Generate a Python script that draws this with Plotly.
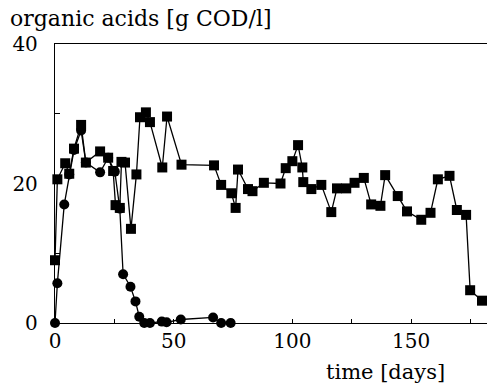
import plotly.graph_objects as go

# squares series (days, g COD/l)
sq_days = [0, 1, 4.3, 6, 8, 11, 13, 19, 22.4, 24.5, 25.5, 27.3, 28, 29.5, 32, 34.3,
           35.8, 38.3, 40, 45.2, 47.2, 53.3, 67, 70, 74.3, 76.1, 77.1, 81.3, 83.2, 88,
           95, 97.2, 100, 102.4, 104.2, 104.6, 108, 112.2, 116.4, 118.8, 122.7, 126.2,
           130.1, 133.2, 137.1, 139.1, 144.4, 148.3, 154.3, 158.2, 161.3, 166.2, 169.3,
           173.2, 174.9, 179.9]
sq_vals = [9.0, 20.6, 22.9, 21.4, 25.0, 28.4, 23.0, 24.6, 23.7, 21.8, 16.9, 16.5, 23.1, 23.0, 13.5, 21.3,
           29.5, 30.2, 28.8, 22.3, 29.6, 22.7, 22.6, 19.8, 18.6, 16.5, 22.0, 19.2, 18.9, 20.1,
           20.0, 22.2, 23.2, 25.5, 22.3, 20.2, 19.2, 19.8, 15.9, 19.3, 19.3, 20.1,
           20.8, 17.0, 16.8, 21.2, 18.2, 16.0, 14.8, 15.8, 20.6, 21.1, 16.2,
           15.5, 4.7, 3.2]

# circles series
ci_days = [0, 1, 3.9, 6, 8, 11, 13, 19, 22.4, 25.2, 27.3, 28.7, 31.8, 33.9, 35.5,
           37.6, 40, 45, 47, 53, 66.6, 70, 74]
ci_vals = [0, 5.7, 17.0, 21.3, 24.8, 27.6, 23.0, 21.6, 23.7, 21.7, 16.4, 7.0, 5.2, 3.1, 0.9,
           0, 0, 0.2, 0.1, 0.5, 0.8, 0, 0]

x_ticks = [0, 25, 50, 75, 100, 125, 150, 175]
x_labels = ["0", "", "50", "", "100", "", "150", ""]
y_ticks = [0, 10, 20, 30, 40]
y_labels = ["0", "", "20", "", "40"]

FONT = "DejaVu Serif"

fig = go.Figure()
fig.add_trace(go.Scatter(x=ci_days, y=ci_vals, mode="lines+markers",
                         line=dict(color="black", width=1.3),
                         marker=dict(symbol="circle", size=10, color="black"),
                         cliponaxis=False, showlegend=False))
fig.add_trace(go.Scatter(x=sq_days, y=sq_vals, mode="lines+markers",
                         line=dict(color="black", width=1.3),
                         marker=dict(symbol="square", size=10, color="black"),
                         cliponaxis=False, showlegend=False))

fig.update_layout(
    width=489, height=384,
    margin=dict(l=55, r=2, t=44, b=61),
    paper_bgcolor="white", plot_bgcolor="white",
    font=dict(family=FONT, color="black", size=18),
    xaxis=dict(range=[0, 182], tickvals=x_ticks, ticktext=x_labels,
               ticks="inside", ticklen=4, tickwidth=1, tickcolor="black",
               showline=True, linecolor="black", linewidth=1.3, mirror=True,
               showgrid=False, zeroline=False, tickfont=dict(family=FONT, size=20)),
    yaxis=dict(range=[0, 40], tickvals=y_ticks, ticktext=y_labels,
               ticks="inside", ticklen=5, tickwidth=1, tickcolor="black",
               showline=True, linecolor="black", linewidth=1.3, mirror=False,
               ticklabelstandoff=12,
               showgrid=False, zeroline=False, tickfont=dict(family=FONT, size=20)),
    annotations=[
        dict(text="organic acids [g COD/l]", xref="paper", yref="paper",
             x=-0.109, y=1.093, xanchor="left", yanchor="middle", showarrow=False,
             font=dict(family=FONT, size=22)),
        dict(text="time [days]", xref="paper", yref="paper",
             x=0.907, y=-0.176, xanchor="right", yanchor="middle", showarrow=False,
             font=dict(family=FONT, size=21)),
    ],
)

fig.write_html("out.html", config={"displayModeBar": False},
               post_script="document.body.style.margin='0';document.body.style.padding='0';")
